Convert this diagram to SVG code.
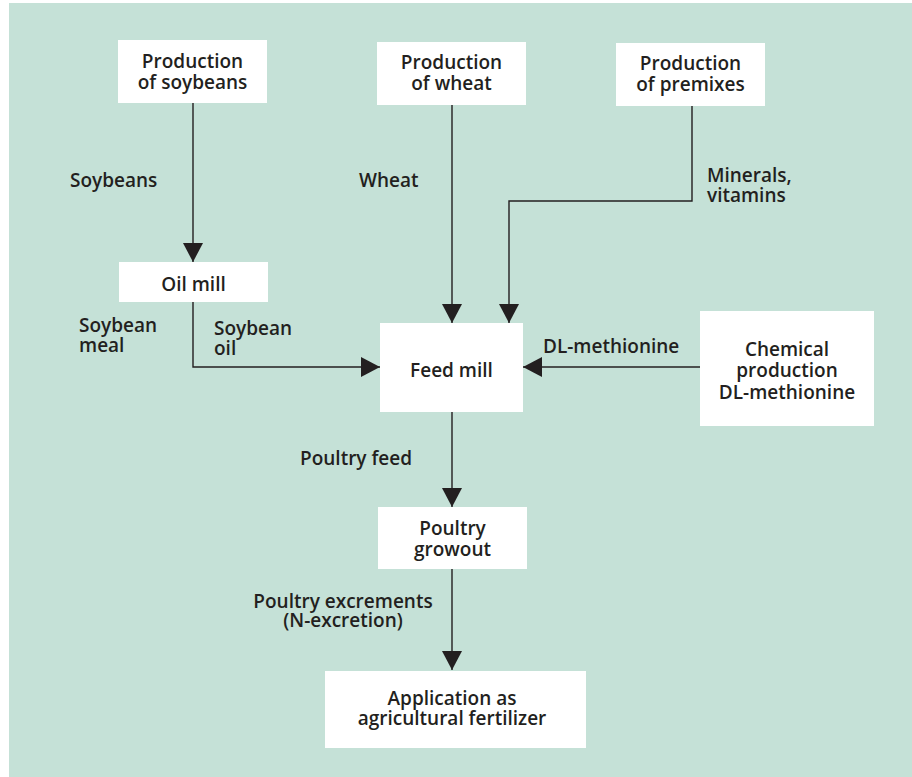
<svg xmlns="http://www.w3.org/2000/svg" width="912" height="777" viewBox="0 0 912 777">
<style>
.bg{fill:#c5e1d7}
.box{fill:#ffffff}
text{font-family:"Open Sans","Liberation Sans",sans-serif;font-weight:600;font-size:19px;fill:#231f20}
.c{text-anchor:middle}
.ln{fill:none;stroke:#231f20;stroke-width:1.4}
</style>
<defs>
<marker id="arr" markerUnits="userSpaceOnUse" markerWidth="20" markerHeight="20" refX="19" refY="10" orient="auto" viewBox="0 0 20 20">
<path d="M0,0 L19,10 L0,20 z" fill="#231f20"/>
</marker>
</defs>
<rect class="bg" x="9" y="3" width="903" height="774"/>
<g id="connectors">
<line class="ln" x1="193" y1="103" x2="193" y2="262" marker-end="url(#arr)"/>
<polyline class="ln" points="193,302 193,367 380,367" marker-end="url(#arr)"/>
<line class="ln" x1="452" y1="105" x2="452" y2="323" marker-end="url(#arr)"/>
<polyline class="ln" points="692,106 692,201 509,201 509,323" marker-end="url(#arr)"/>
<line class="ln" x1="700" y1="367" x2="523" y2="367" marker-end="url(#arr)"/>
<line class="ln" x1="452" y1="412" x2="452" y2="507" marker-end="url(#arr)"/>
<line class="ln" x1="452" y1="569" x2="452" y2="670" marker-end="url(#arr)"/>
</g>
<g id="labels">
<text x="70" y="187">Soybeans</text>
<text x="359" y="187">Wheat</text>
<text x="707" y="182">Minerals,</text>
<text x="707" y="202">vitamins</text>
<text x="79" y="332">Soybean</text>
<text x="79" y="352">meal</text>
<text x="214" y="335">Soybean</text>
<text x="214" y="355">oil</text>
<text x="543" y="353">DL-methionine</text>
<text x="300" y="465">Poultry feed</text>
<text class="c" x="343" y="608">Poultry excrements</text>
<text class="c" x="343" y="627">(N-excretion)</text>
</g>
<g id="soybeans">
<rect class="box" x="118" y="40" width="149" height="63"/>
<text class="c" x="192.5" y="68">Production</text>
<text class="c" x="192.5" y="89">of soybeans</text>
</g>
<g id="wheat">
<rect class="box" x="377" y="42" width="149" height="63"/>
<text class="c" x="451.5" y="69">Production</text>
<text class="c" x="451.5" y="90">of wheat</text>
</g>
<g id="premixes">
<rect class="box" x="616" y="43" width="149" height="63"/>
<text class="c" x="690.5" y="70">Production</text>
<text class="c" x="690.5" y="91">of premixes</text>
</g>
<g id="oilmill">
<rect class="box" x="119" y="262" width="149" height="40"/>
<text class="c" x="193.5" y="291">Oil mill</text>
</g>
<g id="feedmill">
<rect class="box" x="380" y="323" width="143" height="89"/>
<text class="c" x="451.5" y="377">Feed mill</text>
</g>
<g id="chemical">
<rect class="box" x="700" y="311" width="174" height="115"/>
<text class="c" x="787" y="356">Chemical</text>
<text class="c" x="787" y="377">production</text>
<text class="c" x="787" y="399">DL-methionine</text>
</g>
<g id="growout">
<rect class="box" x="378" y="507" width="149" height="62"/>
<text class="c" x="452.5" y="535">Poultry</text>
<text class="c" x="452.5" y="556">growout</text>
</g>
<g id="application">
<rect class="box" x="325" y="671" width="261" height="77"/>
<text class="c" x="452" y="705">Application as</text>
<text class="c" x="452" y="725">agricultural fertilizer</text>
</g>
</svg>
